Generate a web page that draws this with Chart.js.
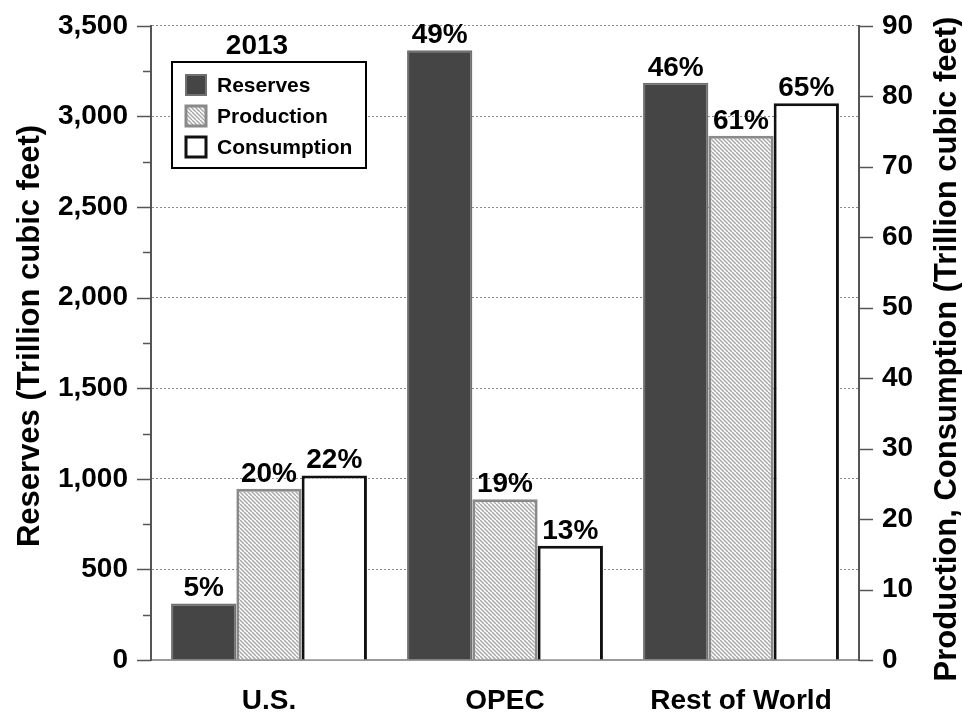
<!DOCTYPE html>
<html>
<head>
<meta charset="utf-8">
<script src="https://cdn.jsdelivr.net/npm/chart.js@4.4.0/dist/chart.umd.min.js"></script>
<style>
  html, body { margin: 0; padding: 0; background: #fff; }
  #chart { display: block; }
</style>
</head>
<body>
<canvas id="chart" width="962" height="715"></canvas>
<script>
// values
const categories = ['U.S.', 'OPEC', 'Rest of World'];
const reserves = [312, 3365, 3186];        // left axis, Tcf
const production = [24.3, 22.8, 74.4];     // right axis, Tcf
const consumption = [26.2, 16.2, 79.0];    // right axis, Tcf
const reservesShare = [5, 49, 46];
const productionShare = [20, 19, 61];
const consumptionShare = [22, 13, 65];
const leftMax = 3500, leftStep = 500;
const rightMax = 90, rightStep = 10;
const yearLabel = '2013';

const FONT = "'Liberation Sans', Arial, sans-serif";

const canvas = document.getElementById('chart');
const ctx = canvas.getContext('2d');

// diagonal hatching for the production bars
function hatch() {
    const tile = document.createElement('canvas');
    tile.width = 8; tile.height = 8;
    const g = tile.getContext('2d');
    g.fillStyle = '#ffffff';
    g.fillRect(0, 0, 8, 8);
    g.strokeStyle = '#a6a6a6';
    g.lineWidth = 1.4;
    for (let k = -8; k <= 8; k += 4) {
        g.beginPath();
        g.moveTo(k, 0);
        g.lineTo(k + 8, 8);
        g.stroke();
    }
    return ctx.createPattern(tile, 'repeat');
}

const shares = [reservesShare, productionShare, consumptionShare];

const extras = {
    id: 'extras',
    afterDraw(chart) {
        const c = chart.ctx;
        const area = chart.chartArea;
        c.save();

        // tick marks, long on labelled values, short in between
        ['y', 'y2'].forEach(id => {
            const sc = chart.scales[id];
            const left = sc.position === 'left';
            const x0 = left ? area.left : area.right;
            c.strokeStyle = '#555';
            c.lineWidth = 1.5;
            sc.ticks.forEach(t => {
                const y = Math.round(sc.getPixelForValue(t.value)) + 0.5;
                const major = t.value % (id === 'y' ? leftStep : rightStep) === 0;
                const len = major ? 14 : 8;
                c.beginPath();
                c.moveTo(x0, y);
                c.lineTo(left ? x0 - len : x0 + len, y);
                c.stroke();
            });
        });

        // axis titles, both read bottom to top
        c.fillStyle = '#000';
        c.font = 'bold 31px ' + FONT;
        c.textAlign = 'center';
        c.textBaseline = 'middle';
        c.save();
        c.translate(30, 336);
        c.rotate(-Math.PI / 2);
        c.fillText(chart.scales.y.options.title.text, 0, 0);
        c.restore();
        c.save();
        c.translate(947, 349);
        c.rotate(-Math.PI / 2);
        c.fillText(chart.scales.y2.options.title.text, 0, 0);
        c.restore();

        // share labels over the bars
        c.font = 'bold 28px ' + FONT;
        c.textBaseline = 'alphabetic';
        chart.data.datasets.forEach((ds, i) => {
            chart.getDatasetMeta(i).data.forEach((bar, j) => {
                c.fillText(shares[i][j] + '%', bar.x, bar.y - 7);
            });
        });

        // year
        c.fillText(yearLabel, 257, 54);

        // legend box
        const bx = 172, by = 62, bw = 194, bh = 106;
        c.fillStyle = '#fff';
        c.fillRect(bx, by, bw, bh);
        c.strokeStyle = '#000';
        c.lineWidth = 2;
        c.strokeRect(bx, by, bw, bh);
        c.font = 'bold 21px ' + FONT;
        c.textAlign = 'left';
        c.textBaseline = 'middle';
        chart.data.datasets.forEach((ds, i) => {
            const sy = 75 + i * 31;
            c.fillStyle = ds.backgroundColor;
            c.fillRect(186, sy, 20, 20);
            c.strokeStyle = ds.borderColor;
            c.lineWidth = ds.borderWidth;
            c.strokeRect(186, sy, 20, 20);
            c.fillStyle = '#000';
            c.fillText(ds.label, 217, sy + 11);
        });
        c.restore();
    }
};

new Chart(ctx, {
    type: 'bar',
    data: {
        labels: categories,
        datasets: [{
            label: 'Reserves',
            data: reserves,
            yAxisID: 'y',
            backgroundColor: '#454545',
            borderColor: '#707070',
            borderWidth: 2
        }, {
            label: 'Production',
            data: production,
            yAxisID: 'y2',
            backgroundColor: hatch(),
            borderColor: '#8a8a8a',
            borderWidth: 3
        }, {
            label: 'Consumption',
            data: consumption,
            yAxisID: 'y2',
            backgroundColor: '#ffffff',
            borderColor: '#111111',
            borderWidth: 3
        }]
    },
    options: {
        responsive: false,
        animation: false,
        devicePixelRatio: 1,
        layout: { padding: { top: 21, left: 0, right: 0, bottom: 0 } },
        datasets: {
            bar: { categoryPercentage: 0.83, barPercentage: 1.0 }
        },
        plugins: {
            legend: { display: false },
            tooltip: { enabled: false }
        },
        scales: {
            x: {
                grid: { display: false, drawTicks: false },
                border: { color: '#999', width: 2 },
                ticks: {
                    color: '#000',
                    padding: 24,
                    font: { family: FONT, size: 28, weight: 'bold' }
                },
                afterFit: s => { s.height = 55; }
            },
            y: {
                position: 'left',
                min: 0,
                max: leftMax,
                title: { display: false, text: 'Reserves (Trillion cubic feet)' },
                border: { color: '#555', width: 2, dash: [2, 2] },
                grid: {
                    color: c => (c.tick.value > 0 && c.tick.value % leftStep === 0) ? '#8c8c8c' : 'transparent',
                    lineWidth: 1,
                    tickLength: 14,
                    tickColor: 'transparent'
                },
                ticks: {
                    stepSize: leftStep / 2,
                    color: '#000',
                    padding: 9,
                    font: { family: FONT, size: 28, weight: 'bold' },
                    callback: v => v % leftStep === 0 ? v.toLocaleString('en-US') : ''
                },
                afterFit: s => { s.width = 151; }
            },
            y2: {
                position: 'right',
                min: 0,
                max: rightMax,
                title: { display: false, text: 'Production, Consumption (Trillion cubic feet)' },
                border: { color: '#555', width: 2 },
                grid: {
                    drawOnChartArea: false,
                    tickLength: 14,
                    tickColor: 'transparent'
                },
                ticks: {
                    stepSize: rightStep / 2,
                    color: '#000',
                    padding: 9,
                    font: { family: FONT, size: 28, weight: 'bold' },
                    callback: v => v % rightStep === 0 ? v : ''
                },
                afterFit: s => { s.width = 103; }
            }
        }
    },
    plugins: [extras]
});
</script>
</body>
</html>
